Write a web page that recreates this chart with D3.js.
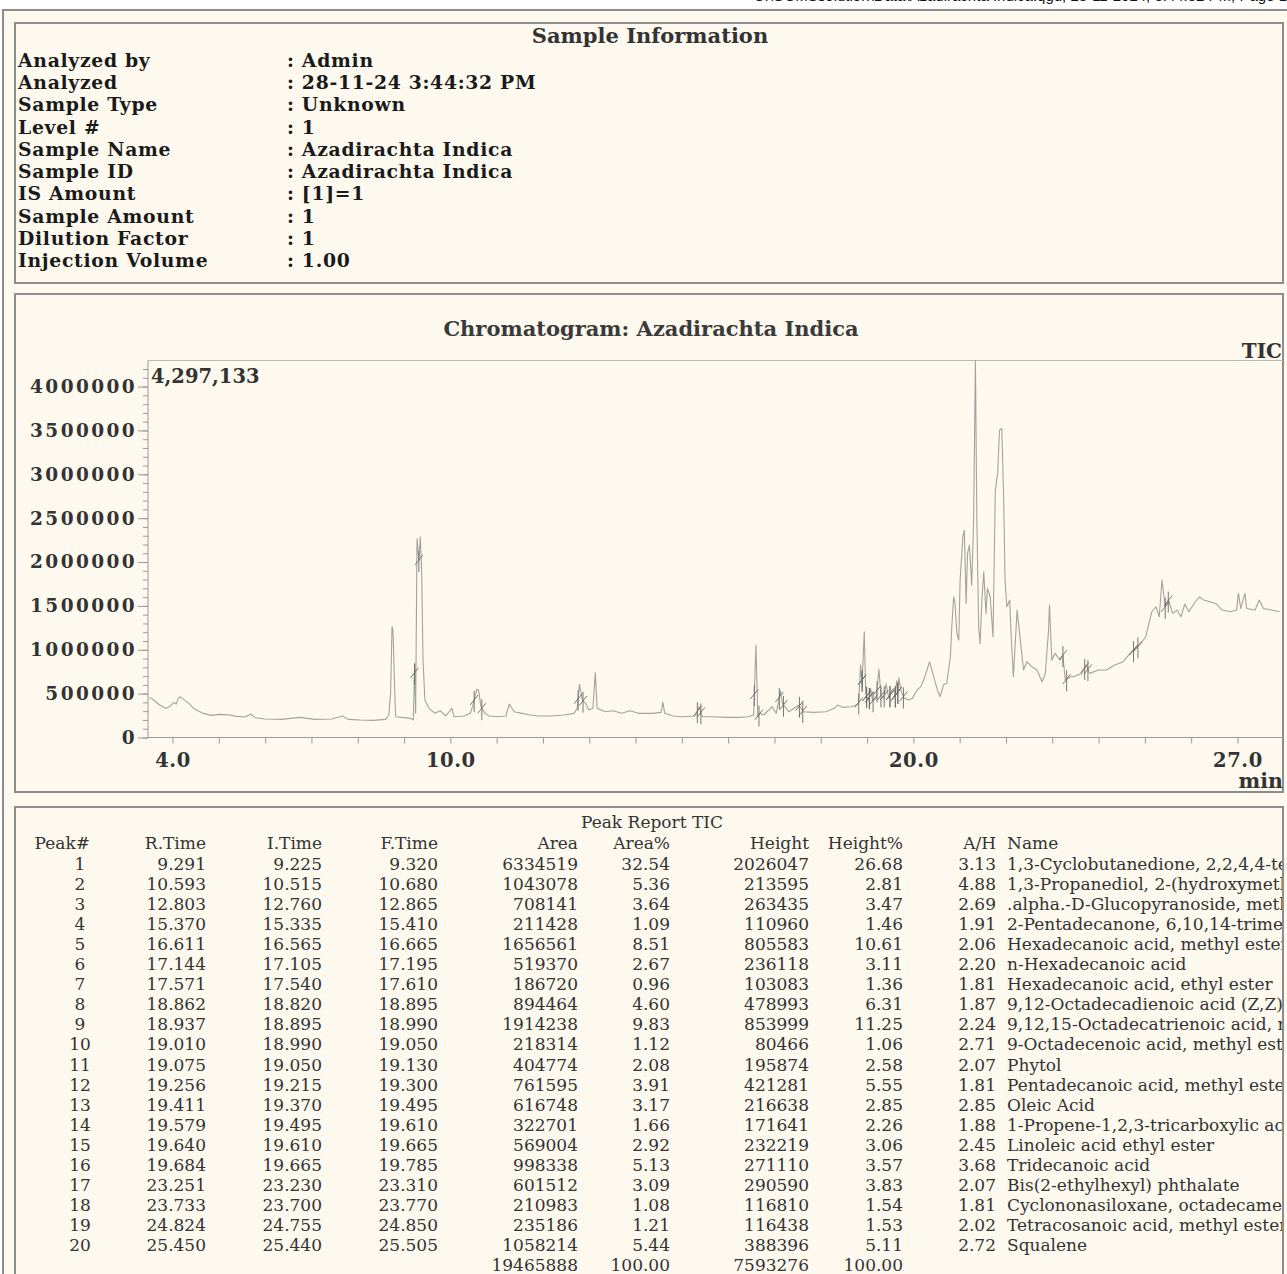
<!DOCTYPE html>
<html><head><meta charset="utf-8">
<script src="https://cdn.jsdelivr.net/npm/d3@7"></script>
<style>
html,body{margin:0;padding:0;background:#fff;}
svg{display:block;}
</style></head><body>
<svg id="c" width="1287" height="1274"></svg>
<script>
// ---------------- DATA ----------------
const infoLabels = ["Analyzed by","Analyzed","Sample Type","Level #","Sample Name","Sample ID","IS Amount","Sample Amount","Dilution Factor","Injection Volume"];
const infoValues = [": Admin",": 28-11-24 3:44:32 PM",": Unknown",": 1",": Azadirachta Indica",": Azadirachta Indica",": [1]=1",": 1",": 1",": 1.00"];

const rtMin = [3.50,3.59,3.72,3.85,3.94,4.03,4.08,4.12,4.17,4.21,4.35,4.48,4.66,4.84,5.02,5.20,5.38,5.56,5.65,5.69,5.78,6.00,6.36,6.74,7.08,7.44,7.67,7.79,8.06,8.33,8.60,8.67,8.71,8.74,8.76,8.78,8.80,8.82,9.14,9.20,9.23,9.25,9.28,9.32,9.35,9.38,9.41,9.45,9.54,9.67,9.78,9.90,10.03,10.08,10.30,10.43,10.48,10.57,10.61,10.66,10.75,10.84,11.02,11.20,11.27,11.38,11.55,11.73,11.91,12.18,12.45,12.67,12.74,12.79,12.85,12.92,12.99,13.08,13.13,13.17,13.34,13.52,13.70,13.88,14.06,
14.37,14.55,14.59,14.63,14.81,14.99,15.26,15.30,15.37,15.44,15.70,15.97,16.24,16.42,16.55,16.60,16.64,16.68,16.77,16.95,17.04,17.13,17.17,17.31,17.53,17.62,17.84,18.11,18.29,18.36,18.47,18.65,18.78,18.82,18.86,18.89,18.94,18.97,19.01,19.04,19.075,19.12,19.20,19.256,19.30,19.36,19.41,19.47,19.54,19.58,19.61,19.64,19.665,19.684,19.74,19.80,19.89,19.98,
20.08,20.16,20.25,20.35,20.44,20.52,20.58,20.65,20.72,20.80,20.83,20.87,20.90,20.94,20.98,21.01,21.07,21.10,21.14,21.17,21.21,21.26,21.30,21.34,21.37,21.41,21.44,21.48,21.52,21.57,21.60,21.66,21.72,21.77,21.82,21.86,21.91,21.95,21.98,22.02,22.08,22.11,22.16,22.24,22.31,22.38,22.45,22.56,22.67,22.78,22.85,22.92,22.94,22.99,23.06,23.17,23.23,23.28,23.39,23.46,23.64,23.73,23.81,23.99,24.17,24.35,24.53,24.71,24.80,24.88,25.02,25.15,25.24,25.31,25.37,25.44,25.51,25.60,25.69,25.78,25.86,25.95,26.09,26.18,26.27,26.40,26.53,26.67,26.85,26.98,27.02,27.07,27.16,27.20,27.38,27.47,27.56,27.74,27.91];

const ticCounts = [457500,427200,370200,332200,351200,400000,380000,446100,465100,446100,389200,320800,275300,252500,263900,260100,241100,233500,256300,267700,225900,210700,206900,229700,206900,210700,244900,206900,199300,195500,206900,256300,503100,1262500,1230000,882800,503100,237300,218300,200000,844800,275300,2268700,2021900,2287700,1908000,882800,427200,332200,275300,305700,244900,332200,237300,244900,275300,351200,548700,541100,351200,275300,244900,237300,244900,381600,294300,275300,256300,244900,244900,256300,275300,332200,605600,427200,389200,313300,332200,738500,332200,294300,305700,275300,305700,275300,
275300,286700,400600,275300,244900,237300,244900,250000,351200,237300,237300,229700,229700,237300,256300,1053700,237300,275300,256300,351200,275300,533500,389200,294300,370200,294300,286700,294300,332200,370200,343600,351200,370200,400000,830000,600000,1205600,500000,450000,420000,560000,420000,450000,776500,480000,450000,609400,450000,541100,560000,480000,647400,520000,680000,520000,450000,427200,446100,
541000,579000,692900,863800,690000,540000,465000,600000,617000,920800,1262000,1604000,1528000,1186000,1110000,1794000,2287000,2363000,1528000,2096000,2193000,1737000,2439000,4297133,2515000,1262000,1072000,1566000,1889000,1414000,1699000,1604000,1149000,2819000,3009000,3503000,3522000,2743000,1794000,1490000,1566000,1186000,693000,1452000,1110000,769000,864000,807000,769000,636000,731000,1224000,1509000,883000,959000,883000,940000,655000,693000,692900,730900,825800,730900,768900,768900,825800,863800,977700,1015700,1053700,1148600,1433400,1490300,1376400,1794000,1490300,1566300,1414400,1452400,1376400,1520700,1433400,1547300,1604200,1566300,1547300,1528300,1452400,1433400,1452400,1642200,1471300,1642200,1471300,1452400,1566300,1471300,1452400,1433400];

const yTickValues = [0,500000,1000000,1500000,2000000,2500000,3000000,3500000,4000000];
const xTickLabels = [4,10,20,27];
const maxIntensity = 4297133;

const peakNo = [1,2,3,4,5,6,7,8,9,10,11,12,13,14,15,16,17,18,19,20];
const rTime = [9.291,10.593,12.803,15.370,16.611,17.144,17.571,18.862,18.937,19.010,19.075,19.256,19.411,19.579,19.640,19.684,23.251,23.733,24.824,25.450];
const iTime = [9.225,10.515,12.760,15.335,16.565,17.105,17.540,18.820,18.895,18.990,19.050,19.215,19.370,19.495,19.610,19.665,23.230,23.700,24.755,25.440];
const fTime = [9.320,10.680,12.865,15.410,16.665,17.195,17.610,18.895,18.990,19.050,19.130,19.300,19.495,19.610,19.665,19.785,23.310,23.770,24.850,25.505];
const area = [6334519,1043078,708141,211428,1656561,519370,186720,894464,1914238,218314,404774,761595,616748,322701,569004,998338,601512,210983,235186,1058214];
const areaPct = [32.54,5.36,3.64,1.09,8.51,2.67,0.96,4.60,9.83,1.12,2.08,3.91,3.17,1.66,2.92,5.13,3.09,1.08,1.21,5.44];
const height = [2026047,213595,263435,110960,805583,236118,103083,478993,853999,80466,195874,421281,216638,171641,232219,271110,290590,116810,116438,388396];
const heightPct = [26.68,2.81,3.47,1.46,10.61,3.11,1.36,6.31,11.25,1.06,2.58,5.55,2.85,2.26,3.06,3.57,3.83,1.54,1.53,5.11];
const aOverH = [3.13,4.88,2.69,1.91,2.06,2.20,1.81,1.87,2.24,2.71,2.07,1.81,2.85,1.88,2.45,3.68,2.07,1.81,2.02,2.72];
const compound = ["1,3-Cyclobutanedione, 2,2,4,4-tetramethyl-","1,3-Propanediol, 2-(hydroxymethyl)-2-nitro-",".alpha.-D-Glucopyranoside, methyl","2-Pentadecanone, 6,10,14-trimethyl-","Hexadecanoic acid, methyl ester","n-Hexadecanoic acid","Hexadecanoic acid, ethyl ester","9,12-Octadecadienoic acid (Z,Z)-, methyl ester","9,12,15-Octadecatrienoic acid, methyl ester","9-Octadecenoic acid, methyl ester, (E)-","Phytol","Pentadecanoic acid, methyl ester","Oleic Acid","1-Propene-1,2,3-tricarboxylic acid, tributyl ester","Linoleic acid ethyl ester","Tridecanoic acid","Bis(2-ethylhexyl) phthalate","Cyclononasiloxane, octadecamethyl-","Tetracosanoic acid, methyl ester","Squalene"];
const totalArea = 19465888, totalAreaPct = 100.00, totalHeight = 7593276, totalHeightPct = 100.00;

// ---------------- DRAW ----------------
const SERIF = "'DejaVu Serif','Liberation Serif',serif";
const svg = d3.select("#c");
const cream = "#fdf9ee", border = "#8d8d8d";

svg.append("rect").attr("width",1287).attr("height",1274).attr("fill","#fff");
// file path line at the very top (cut off by the page edge, as in the scan)
svg.append("text").attr("x",1287).attr("y",0.8).attr("text-anchor","end")
  .attr("font-family","'Liberation Sans',sans-serif").attr("font-size",15).attr("fill","#111")
  .text("C:\\GCMSsolution\\Data\\Azadirachta Indica.qgd, 28-11-2024, 3:44:32 PM, Page 1");
// outer panel
svg.append("rect").attr("x",3).attr("y",10).attr("width",1300).attr("height",1300)
  .attr("fill",cream).attr("stroke",border).attr("stroke-width",2);

function box(x0,y0,x1,y1){
  svg.append("rect").attr("x",x0).attr("y",y0).attr("width",x1-x0).attr("height",y1-y0)
    .attr("fill","none").attr("stroke",border).attr("stroke-width",2);
}
box(15,23,1283,283);
box(15,294,1283,792);
box(15,807,1283,1290);

// Sample information
svg.append("text").attr("x",650).attr("y",43).attr("text-anchor","middle")
  .attr("font-family",SERIF).attr("font-weight","bold").attr("font-size",21).attr("fill","#333")
  .text("Sample Information");
const rowY = d3.scalePoint().domain(d3.range(infoLabels.length)).range([60,260]);
const info = svg.append("g").attr("font-family",SERIF).attr("font-weight","bold").attr("font-size",18.8)
  .attr("letter-spacing","0.7px").attr("fill","#1a1a1a");
info.selectAll("text.l").data(infoLabels).join("text").attr("class","l")
  .attr("x",18).attr("y",(d,i)=>rowY(i)+7).text(d=>d);
info.selectAll("text.v").data(infoValues).join("text").attr("class","v")
  .attr("x",287).attr("y",(d,i)=>rowY(i)+7).text(d=>d);

// Chromatogram
const x = d3.scaleLinear().domain([3.47,27.94]).range([148,1281]);
const y = d3.scaleLinear().domain([0,maxIntensity]).range([737.5,360.5]);

const defs = svg.append("defs");
defs.append("clipPath").attr("id","plotclip").append("rect")
  .attr("x",148).attr("y",300).attr("width",1283-148).attr("height",460);
defs.append("clipPath").attr("id","tblclip").append("rect")
  .attr("x",16).attr("y",808).attr("width",1266).attr("height",470);

svg.append("text").attr("x",651).attr("y",336).attr("text-anchor","middle")
  .attr("font-family",SERIF).attr("font-weight","bold").attr("font-size",21).attr("fill","#3a3a3a")
  .text("Chromatogram: Azadirachta Indica");
svg.append("text").attr("x",1282).attr("y",358).attr("text-anchor","end")
  .attr("font-family",SERIF).attr("font-weight","bold").attr("font-size",20).attr("fill","#333").text("TIC");

// top frame line
svg.append("line").attr("x1",148).attr("x2",1283).attr("y1",y(maxIntensity)).attr("y2",y(maxIntensity))
  .attr("stroke","#b8b8b2").attr("stroke-width",1.2);

// minor y ticks
const minorY = svg.append("g").attr("transform","translate(148,0)")
  .call(d3.axisLeft(y).tickValues(d3.range(0,maxIntensity,100000)).tickSize(5).tickFormat(""));
minorY.select(".domain").remove();
minorY.selectAll("line").attr("stroke","#9a9a9a");

const yAx = svg.append("g").attr("transform","translate(148,0)")
  .call(d3.axisLeft(y).tickValues(yTickValues).tickSize(10).tickPadding(1).tickFormat(d3.format("d")).tickSizeOuter(0));
yAx.select(".domain").attr("stroke","#9a9a9a").attr("d",`M0,${y(maxIntensity)}V${y(0)}`);
yAx.selectAll("line").attr("stroke","#9a9a9a");
yAx.selectAll("text").attr("font-family",SERIF).attr("font-weight","bold").attr("font-size",18.5)
  .attr("letter-spacing","2.4px").attr("fill","#333");

const xAx = svg.append("g").attr("transform",`translate(0,${y(0)})`)
  .call(d3.axisBottom(x).tickValues(d3.range(4,28)).tickSize(6).tickPadding(10).tickSizeOuter(0)
    .tickFormat(d=>xTickLabels.includes(d)?d3.format(".1f")(d):""));
xAx.select(".domain").attr("stroke","#9a9a9a").attr("d",`M148,0H1283`);
xAx.selectAll("line").attr("stroke","#9a9a9a");
xAx.selectAll("text").attr("font-family",SERIF).attr("font-weight","bold").attr("font-size",19.5)
  .attr("letter-spacing","0.6px").attr("fill","#333");

svg.append("text").attr("x",1283).attr("y",788).attr("text-anchor","end")
  .attr("font-family",SERIF).attr("font-weight","bold").attr("font-size",20.5).attr("fill","#333").text("min");
svg.append("text").attr("x",151).attr("y",383)
  .attr("font-family",SERIF).attr("font-weight","bold").attr("font-size",19.5).attr("fill","#333")
  .text(d3.format(",")(maxIntensity));

// trace
const pts = rtMin.map((t,i)=>[t,ticCounts[i]]);
const plot = svg.append("g").attr("clip-path","url(#plotclip)");
plot.append("path").datum(pts).attr("fill","none").attr("stroke","#a3a39d").attr("stroke-width",1.1)
  .attr("stroke-linejoin","round")
  .attr("d",d3.line().x(d=>x(d[0])).y(d=>y(d[1])));

// integration markers at start/end of each peak
function valAt(t){
  const i = Math.max(1,Math.min(rtMin.length-1,d3.bisectLeft(rtMin,t)));
  const t0=rtMin[i-1],t1=rtMin[i],v0=ticCounts[i-1],v1=ticCounts[i];
  return v0+(v1-v0)*(t-t0)/(t1-t0);
}
const marks = [];
peakNo.forEach((p,i)=>{ marks.push(iTime[i]); marks.push(fTime[i]); });
const mg = plot.append("g").attr("stroke","#6a6a66").attr("stroke-width",0.9);
marks.forEach(t=>{
  const mx = x(t), my = y(valAt(t));
  mg.append("line").attr("x1",mx).attr("x2",mx).attr("y1",my-9).attr("y2",my+12);
  mg.append("line").attr("x1",mx-4).attr("x2",mx+4).attr("y1",my+5).attr("y2",my-5);
});

// Peak report table
const tbl = svg.append("g").attr("clip-path","url(#tblclip)").attr("font-family",SERIF)
  .attr("font-size",17).attr("fill","#333");
tbl.append("text").attr("x",652).attr("y",828).attr("text-anchor","middle").text("Peak Report TIC");
const cols = [
  {h:"Peak#",   x:90,   a:"end", v:i=>String(peakNo[i]), vx:80, va:"middle"},
  {h:"R.Time",  x:206,  a:"end", v:i=>rTime[i].toFixed(3)},
  {h:"I.Time",  x:322,  a:"end", v:i=>iTime[i].toFixed(3)},
  {h:"F.Time",  x:438,  a:"end", v:i=>fTime[i].toFixed(3)},
  {h:"Area",    x:578,  a:"end", v:i=>String(area[i])},
  {h:"Area%",   x:670,  a:"end", v:i=>areaPct[i].toFixed(2)},
  {h:"Height",  x:809,  a:"end", v:i=>String(height[i])},
  {h:"Height%", x:903,  a:"end", v:i=>heightPct[i].toFixed(2)},
  {h:"A/H",     x:996,  a:"end", v:i=>aOverH[i].toFixed(2)},
  {h:"Name",    x:1007, a:"start", v:i=>compound[i]}
];
const rowYt = i => 870 + 20.05*i;
cols.forEach(c=>{
  tbl.append("text").attr("x",c.x).attr("y",849).attr("text-anchor",c.a).text(c.h);
  tbl.selectAll(null).data(peakNo).join("text")
    .attr("x",c.vx||c.x).attr("y",(d,i)=>rowYt(i)).attr("text-anchor",c.va||c.a)
    .text((d,i)=>c.v(i));
});
const tot = [[578,String(totalArea)],[670,totalAreaPct.toFixed(2)],[809,String(totalHeight)],[903,totalHeightPct.toFixed(2)]];
tbl.selectAll(null).data(tot).join("text").attr("x",d=>d[0]).attr("y",rowYt(20)).attr("text-anchor","end").text(d=>d[1]);
</script>
</body></html>
